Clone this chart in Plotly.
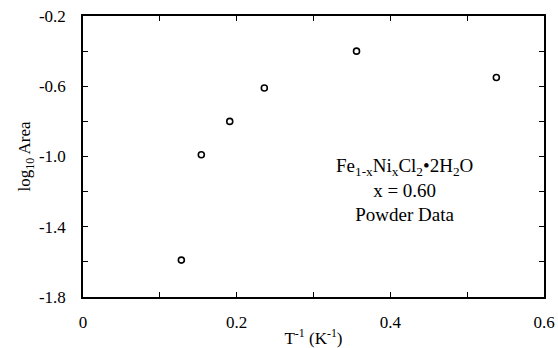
import plotly.graph_objects as go

# Inverse temperature (1/K) and log10 of the integrated area
inv_temp = [0.128, 0.154, 0.191, 0.236, 0.356, 0.538]
log_area = [-1.59, -0.99, -0.80, -0.61, -0.40, -0.55]

x_tickvals = [0, 0.2, 0.4, 0.6]
x_ticktext = ["0", "0.2", "0.4", "0.6"]
y_tickvals = [-0.2, -0.6, -1.0, -1.4, -1.8]
y_ticktext = ["-0.2", "-0.6", "-1.0", "-1.4", "-1.8"]

font_family = "Liberation Serif"

fig = go.Figure()
fig.add_trace(go.Scatter(
    x=inv_temp, y=log_area, mode="markers",
    marker=dict(symbol="circle-open", size=6, color="black",
                line=dict(width=1.6, color="black")),
    showlegend=False,
))

axis_common = dict(
    showgrid=False, zeroline=False, showline=True, linecolor="black",
    linewidth=1.5, mirror="ticks", ticks="inside", ticklen=5, tickwidth=1.3,
    tickcolor="black", automargin=False,
    tickfont=dict(family=font_family, size=17, color="black"),
)

fig.update_xaxes(
    range=[0, 0.6], tickvals=x_tickvals, ticktext=x_ticktext,
    minor=dict(tickvals=[0.1, 0.3, 0.5], ticks="inside", ticklen=5,
               tickwidth=1.3, tickcolor="black"),
    ticklabelstandoff=9,
    title=dict(text="T<sup>-1</sup> (K<sup>-1</sup>)",
               font=dict(family=font_family, size=17, color="black"),
               standoff=2),
    **axis_common,
)
fig.update_yaxes(
    range=[-1.8, -0.2], tickvals=y_tickvals, ticktext=y_ticktext,
    minor=dict(tickvals=[-0.4, -0.8, -1.2, -1.6], ticks="inside", ticklen=5,
               tickwidth=1.3, tickcolor="black"),
    ticklabelstandoff=12,
    title=dict(text="log<sub>10</sub> Area",
               font=dict(family=font_family, size=17, color="black"),
               standoff=4),
    **axis_common,
)

label_lines = [
    "Fe<sub>1-x</sub>Ni<sub>x</sub>Cl<sub>2</sub>•2H<sub>2</sub>O",
    "x = 0.60",
    "Powder Data",
]
fig.add_annotation(
    x=0.418, y=-1.19, xref="x", yref="y",
    text="<br>".join(label_lines), showarrow=False, align="center",
    font=dict(family=font_family, size=19, color="black"),
)

fig.update_layout(
    width=558, height=348,
    margin=dict(l=83, r=14, t=16, b=51),
    font=dict(family=font_family, color="black"),
    plot_bgcolor="white", paper_bgcolor="white",
)

fig.write_html("out.html")
